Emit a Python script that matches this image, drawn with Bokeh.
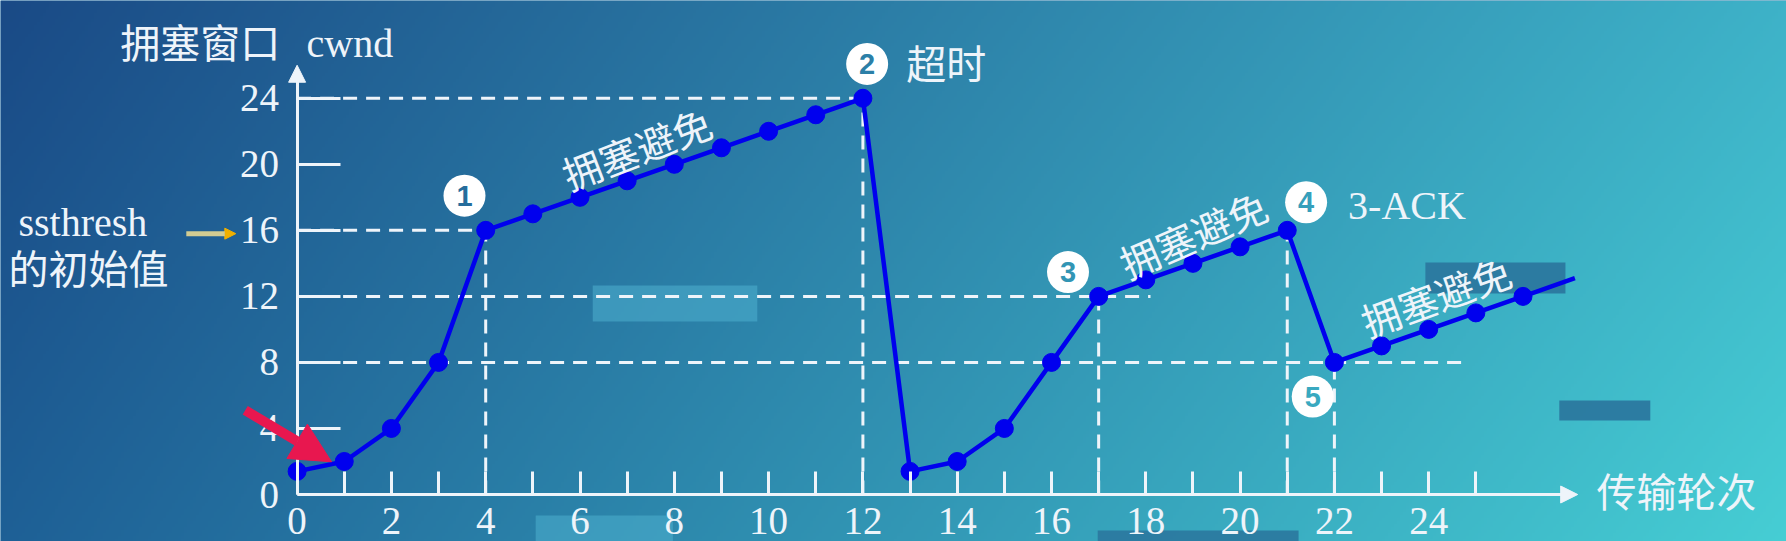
import numpy as np
from bokeh.plotting import figure
from bokeh.models import Range1d, FixedTicker, Arrow, NormalHead, Label, BoxAnnotation
from bokeh.core.properties import value
from bokeh.embed import file_html
from bokeh.resources import INLINE

# ---------------- data ----------------
rounds = list(range(0, 27))
cwnd = [1.4, 2, 4, 8, 16, 17, 18, 19, 20, 21, 22, 23, 24,
        1.4, 2, 4, 8, 12, 13, 14, 15, 16,
        8, 9, 10, 11, 12]
tail_round = [26, 27.1]
tail_cwnd = [12, 13.1]

x_tick_values = list(range(0, 26))
x_tick_labels = [str(v) if v % 2 == 0 else "" for v in x_tick_values]
y_tick_values = [0, 4, 8, 12, 16, 20, 24]

h_guide_level = [24, 16, 12, 8]
h_guide_end = [12, 4, 18.1, 24.7]
v_guide_round = [4, 12, 17, 21, 22]
v_guide_top = [16, 24, 12, 16, 8]

callout_text = ["1", "2", "3", "4", "5"]
callout_x = [3.55, 12.09, 16.35, 21.4, 21.54]
callout_y = [18.1, 26.08, 13.47, 17.7, 5.93]

phase_text = ["拥塞避免", "拥塞避免", "拥塞避免"]
phase_x = [7.2, 19.0, 24.15]
phase_y = [21.0, 15.8, 12.05]
phase_angle = [21, 23.5, 20]

# ---------------- geometry ----------------
W, H = 1786, 541
X0_REF, PX_PER_X = 296.6, 47.15
Y0_REF, PX_PER_Y = 494.0, 16.51
x_lo = (0 - X0_REF) / PX_PER_X
x_hi = (W - X0_REF) / PX_PER_X
y_hi = (Y0_REF - 0) / PX_PER_Y
y_lo = (Y0_REF - H) / PX_PER_Y

TL = np.array([26, 74, 134], dtype=float)
TR = np.array([62, 178, 200], dtype=float)
BL = np.array([30, 96, 150], dtype=float)
BR = np.array([70, 206, 212], dtype=float)


def bg_rgb(u, v):
    top = TL * (1 - u) + TR * u
    bot = BL * (1 - u) + BR * u
    return top * (1 - v) + bot * v


def bg_hex(x, y):
    u = (X0_REF + x * PX_PER_X) / 1786.0
    v = (Y0_REF - y * PX_PER_Y) / 541.0
    r, g, b = bg_rgb(u, v)
    return "#%02x%02x%02x" % (int(r), int(g), int(b))


Ws, Hs = 596, 181
uu = ((np.arange(Ws) + 0.5) / Ws * W) / 1786.0
rows = np.arange(Hs)
vv = (H - (rows + 0.5) / Hs * H) / 541.0
U = uu[None, :, None]
V = vv[:, None, None]
rgb = bg_rgb(U, V)
img = np.empty((Hs, Ws), dtype=np.uint32)
view = img.view(dtype=np.uint8).reshape((Hs, Ws, 4))
view[..., 0] = rgb[..., 0].astype(np.uint8)
view[..., 1] = rgb[..., 1].astype(np.uint8)
view[..., 2] = rgb[..., 2].astype(np.uint8)
view[..., 3] = 255

WHITE = "#eef4fa"
BLUE = "#0000ee"
SERIF = "Liberation Serif"
CJK = "Noto Sans CJK SC"

p = figure(width=W, height=H, x_range=Range1d(x_lo, x_hi), y_range=Range1d(y_lo, y_hi),
           output_backend="svg", toolbar_location=None, min_border=0)
p.grid.visible = False
p.outline_line_color = None
p.background_fill_color = "#2a78a8"
p.border_fill_color = "#2a78a8"

p.image_rgba(image=[img], x=x_lo, y=y_lo, dw=x_hi - x_lo, dh=y_hi - y_lo, level="image")

# decorative boxes
for (l, r, b, t, c, a) in [(6.27, 9.76, 10.48, 12.66, "#4fb0cf", 0.55),
                           (23.93, 26.9, 12.17, 14.05, "#2b789f", 0.95),
                           (26.77, 28.7, 4.48, 5.69, "#2b789f", 0.95),
                           (5.06, 7.97, -3.0, -1.27, "#4fb4d2", 0.5),
                           (16.98, 21.24, -3.0, -2.18, "#2b789f", 0.9)]:
    p.add_layout(BoxAnnotation(left=l, right=r, bottom=b, top=t, fill_color=c,
                               fill_alpha=a, line_color=None, level="underlay"))

# axes
xa = p.xaxis[0]
xa.fixed_location = 0
xa.bounds = (0, 26.9)
xa.ticker = FixedTicker(ticks=x_tick_values, minor_ticks=[])
xa.major_label_overrides = {v: lab for v, lab in zip(x_tick_values, x_tick_labels)}
ya = p.yaxis[0]
ya.fixed_location = 0
ya.bounds = (0, 25.6)
ya.ticker = FixedTicker(ticks=y_tick_values, minor_ticks=[])
for ax, tin, st in [(xa, 23, 13), (ya, 43, 18)]:
    ax.major_tick_in = tin
    ax.major_tick_out = 0
    ax.minor_tick_in = 0
    ax.minor_tick_out = 0
    ax.axis_line_color = WHITE
    ax.axis_line_width = 3
    ax.major_tick_line_color = WHITE
    ax.major_tick_line_width = 3
    ax.major_label_text_font = SERIF
    ax.major_label_text_font_size = "39px"
    ax.major_label_text_color = WHITE
    ax.major_label_standoff = st

p.add_layout(Arrow(x_start=26.7, y_start=0, x_end=27.16, y_end=0, line_color=WHITE, line_width=3,
                   end=NormalHead(size=17, fill_color=WHITE, line_color=WHITE)))
p.add_layout(Arrow(x_start=0, y_start=25.2, x_end=0, y_end=26.0, line_color=WHITE, line_width=3,
                   end=NormalHead(size=17, fill_color=WHITE, line_color=WHITE)))

# dashed guides
p.segment(x0=[0] * len(h_guide_level), y0=h_guide_level, x1=h_guide_end, y1=h_guide_level,
          line_color=WHITE, line_width=3, line_dash="14 9")
p.segment(x0=v_guide_round, y0=[0] * len(v_guide_round), x1=v_guide_round, y1=v_guide_top,
          line_color=WHITE, line_width=3, line_dash="14 9")

# data line
p.line(rounds, cwnd, line_color=BLUE, line_width=4.5)
p.line(tail_round, tail_cwnd, line_color=BLUE, line_width=4.5)
p.scatter(rounds, cwnd, size=18, fill_color=BLUE, line_color=BLUE)

# callouts
p.scatter(callout_x, callout_y, size=42, fill_color="#ffffff", line_color=None)
p.text(x=callout_x, y=callout_y, text=callout_text,
       text_color=[bg_hex(x, y) for x, y in zip(callout_x, callout_y)],
       text_font=value("Liberation Sans"), text_font_style="bold", text_font_size="29px",
       text_align="center", text_baseline="middle")

# phase labels
for t, x, y, a in zip(phase_text, phase_x, phase_y, phase_angle):
    p.add_layout(Label(x=x, y=y, text=t, angle=a, angle_units="deg", text_font=CJK,
                       text_font_size="39px", text_color=WHITE, text_align="center",
                       text_baseline="middle"))

# other texts
for (x, y, t, f, base) in [(-3.75, 27.44, "拥塞窗口", CJK, "middle"),
                            (0.2, 27.3, "cwnd", SERIF, "alphabetic"),
                            (-5.91, 16.5, "ssthresh", SERIF, "alphabetic"),
                            (-6.12, 13.75, "的初始值", CJK, "middle"),
                            (12.92, 26.2, "超时", CJK, "middle"),
                            (22.29, 17.5, "3-ACK", SERIF, "alphabetic"),
                            (27.56, 0.3, "传输轮次", CJK, "middle")]:
    p.add_layout(Label(x=x, y=y, text=t, text_font=f, text_font_size="40px",
                       text_color=WHITE, text_align="left", text_baseline=base))

# arrows
p.add_layout(Arrow(x_start=-1.1, y_start=5.1, x_end=0.73, y_end=1.98, line_color="#e8174f",
                   line_width=10, end=NormalHead(size=40, fill_color="#e8174f", line_color="#e8174f")))
p.add_layout(Arrow(x_start=-2.35, y_start=15.8, x_end=-1.3, y_end=15.8, line_color="#d2cc92",
                   line_width=5, end=NormalHead(size=11, fill_color="#f0b000", line_color="#f0b000")))

open("out.html", "w").write(file_html(p, INLINE))
